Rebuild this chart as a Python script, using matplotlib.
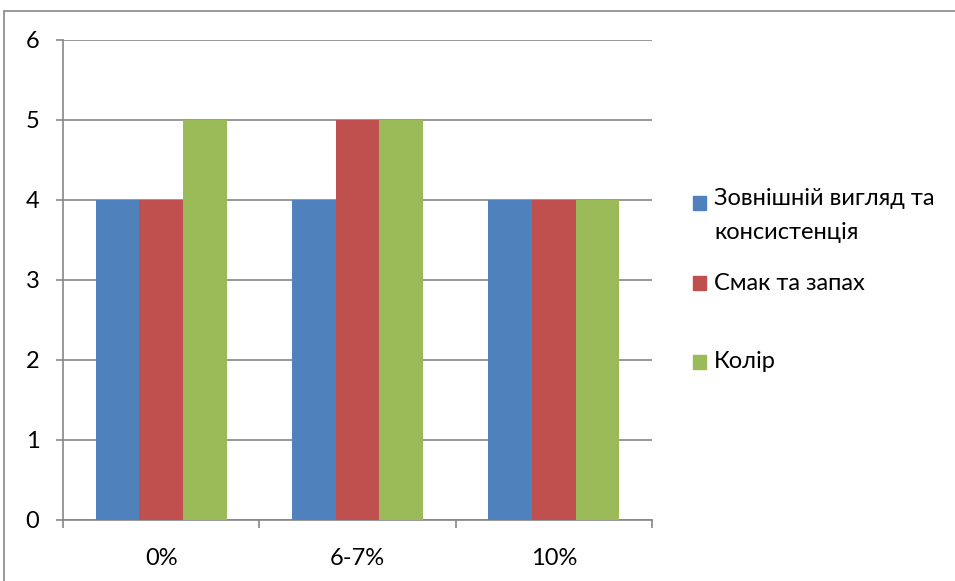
import matplotlib
matplotlib.use("Agg")
import matplotlib.pyplot as plt
from matplotlib.patches import Rectangle
import numpy as np

categories = ["0%", "6-7%", "10%"]
series_names = ["Зовнішній вигляд та\nконсистенція", "Смак та запах", "Колір"]
appearance = [4, 4, 4]
taste_smell = [4, 5, 4]
colour = [5, 5, 4]
values = [appearance, taste_smell, colour]
colors = ["#4F81BD", "#C0504D", "#9BBB59"]
yticks = [0, 1, 2, 3, 4, 5, 6]

plt.rcParams['font.family'] = ['Lato', 'DejaVu Sans']

W, H = 955, 581
FS = 17
fig = plt.figure(figsize=(W / 100, H / 100), dpi=100)
ax = fig.add_axes([63 / W, (H - 520) / H, (652 - 63) / W, 480 / H])

x = np.arange(len(categories))
bw = 0.6667 / 3
for i, (vals, c) in enumerate(zip(values, colors)):
    ax.bar(x + (i - 1) * bw, vals, width=bw, color=c, zorder=3)

ax.set_xlim(-0.5, len(categories) - 0.5)
ax.set_ylim(0, 6)
ax.set_yticks(yticks)
ax.set_yticklabels([str(v) for v in yticks], fontsize=FS)
ax.yaxis.grid(True, color="#868686", linewidth=1.2, zorder=0)
for s in ["top", "right"]:
    ax.spines[s].set_visible(False)
for s in ["left", "bottom"]:
    ax.spines[s].set_color("#868686")
    ax.spines[s].set_linewidth(1.2)
ax.tick_params(axis="y", length=5, width=1.2, color="#868686", pad=12)
ax.set_xticks(x)
ax.set_xticklabels(categories, fontsize=FS)
ax.set_xticks(np.arange(-0.5, len(categories)), minor=True)
ax.tick_params(axis="x", which="major", length=0, pad=20)
ax.tick_params(axis="x", which="minor", length=6, width=1.2, color="#868686")

# legend
ys = [203, 283, 362]
for name, c, yy in zip(series_names, colors, ys):
    fig.patches.append(Rectangle((693 / W, 1 - (yy + 7) / H), 13 / W, 14 / H,
                                 transform=fig.transFigure, color=c))
    if "\n" in name:
        fig.text(714 / W, 1 - (yy - 15) / H, name, fontsize=FS, va="top", ha="left",
                 linespacing=1.75, transform=fig.transFigure)
    else:
        fig.text(714 / W, 1 - yy / H, name, fontsize=FS, va="center", ha="left",
                 transform=fig.transFigure)

# outer border
fig.patches.append(Rectangle((4 / W, -0.05), 1.1, 1 - 11 / H + 0.05,
                             transform=fig.transFigure, fill=False,
                             edgecolor="#868686", linewidth=1.2))

fig.savefig("out.png", dpi=100)
